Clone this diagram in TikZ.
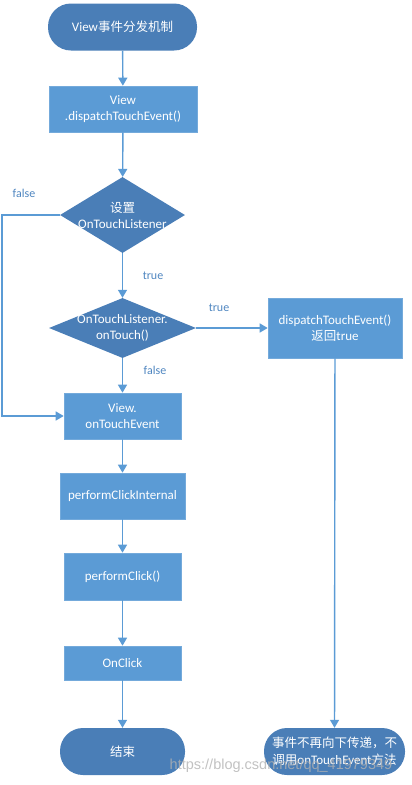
\documentclass[tikz,border=0pt]{standalone}
\usepackage{fontspec}
\setmainfont{Carlito}
\newfontfamily\cjk{Noto Sans CJK SC}
\newfontfamily\wmfont{Liberation Sans}
\usetikzlibrary{shapes.geometric,arrows.meta}
\definecolor{termblue}{HTML}{4A7EB7}
\definecolor{boxblue}{HTML}{5B9BD5}
\definecolor{lineblue}{HTML}{5B9BD5}
\definecolor{lblblue}{HTML}{4F86C0}
\begin{document}
\begin{tikzpicture}[x=1pt,y=-1pt,
  base/.style={text=white,font=\fontsize{13}{16}\selectfont,align=center,inner sep=0pt},
  term/.style={base,fill=termblue,rounded corners=23pt},
  procbox/.style={base,fill=boxblue,draw=boxblue!85!white,line width=0.6pt},
  decision/.style={diamond,fill=termblue,inner sep=0pt},
  flow/.style={draw=lineblue,line width=1.4pt,-{Triangle[width=9pt,length=8pt]}},
  lbl/.style={text=lblblue,font=\fontsize{12}{14}\selectfont,inner sep=0pt}]
\useasboundingbox (0,0) rectangle (412,785);
\node[term,minimum width=149pt,minimum height=47pt] (start) at (122.5,27) {View{\cjk\fontsize{12.5}{15}\selectfont 事件分发机制}};
\node[procbox,minimum width=148pt,minimum height=46pt] (disp) at (123,109) {View\\.dispatchTouchEvent()};
\node[decision,minimum width=125pt,minimum height=76pt,aspect=1.64] (d1) at (122.5,215) {};
\node[base] (d1t) at (d1) {{\cjk\fontsize{12.5}{15}\selectfont 设置}\\OnTouchListener};
\node[decision,minimum width=147pt,minimum height=60pt,aspect=2.45] (d2) at (122.5,328) {};
\node[base] (d2t) at (d2) {OnTouchListener.\\onTouch()};
\node[procbox,minimum width=134pt,minimum height=60pt] (rb) at (335,328) {dispatchTouchEvent()\\{\cjk\fontsize{12.5}{15}\selectfont 返回}true};
\node[procbox,minimum width=117pt,minimum height=46pt] (ote) at (122.5,416) {View.\\onTouchEvent};
\node[procbox,minimum width=125pt,minimum height=46pt] (pci) at (122.5,496) {performClickInternal};
\node[procbox,minimum width=117pt,minimum height=47pt] (pc) at (122.5,576.5) {performClick()};
\node[procbox,minimum width=117pt,minimum height=34pt] (oc) at (122.5,663) {OnClick};
\node[term,minimum width=125pt,minimum height=47pt] (end) at (122.5,751.5) {{\cjk\fontsize{12.5}{15}\selectfont 结束}};
\node[term,minimum width=141pt,minimum height=47pt,font=\cjk\fontsize{12.5}{16.5}\selectfont] (rend) at (334.5,751.5) {事件不再向下传递，不\\调用{\fontspec{Carlito}\fontsize{13}{16}\selectfont onTouchEvent}方法};
\draw[flow] (start) -- (disp);
\draw[flow] (disp) -- (d1);
\draw[flow] (d1) -- (d2);
\draw[flow] (d2) -- (rb);
\draw[flow] (d2) -- (ote);
\coordinate (fl) at (2,215);
\draw[flow] (d1.west) -- (fl) |- (ote.west);
\draw[flow] (rb) -- (rend);
\draw[flow] (ote) -- (pci);
\draw[flow] (pci) -- (pc);
\draw[flow] (pc) -- (oc);
\draw[flow] (oc) -- (end);
\node[lbl] (lf1) at (24,193) {false};
\node[lbl] (lt1) at (153,276) {true};
\node[lbl] (lt2) at (219,308) {true};
\node[lbl] (lf2) at (155,370) {false};
\node[text=gray!60,opacity=0.8,font=\wmfont\fontsize{14.5}{16}\selectfont,inner sep=0pt] (wm) at (281,766) {https://blog.csdn.net/qq\_41979349};
\end{tikzpicture}
\end{document}
